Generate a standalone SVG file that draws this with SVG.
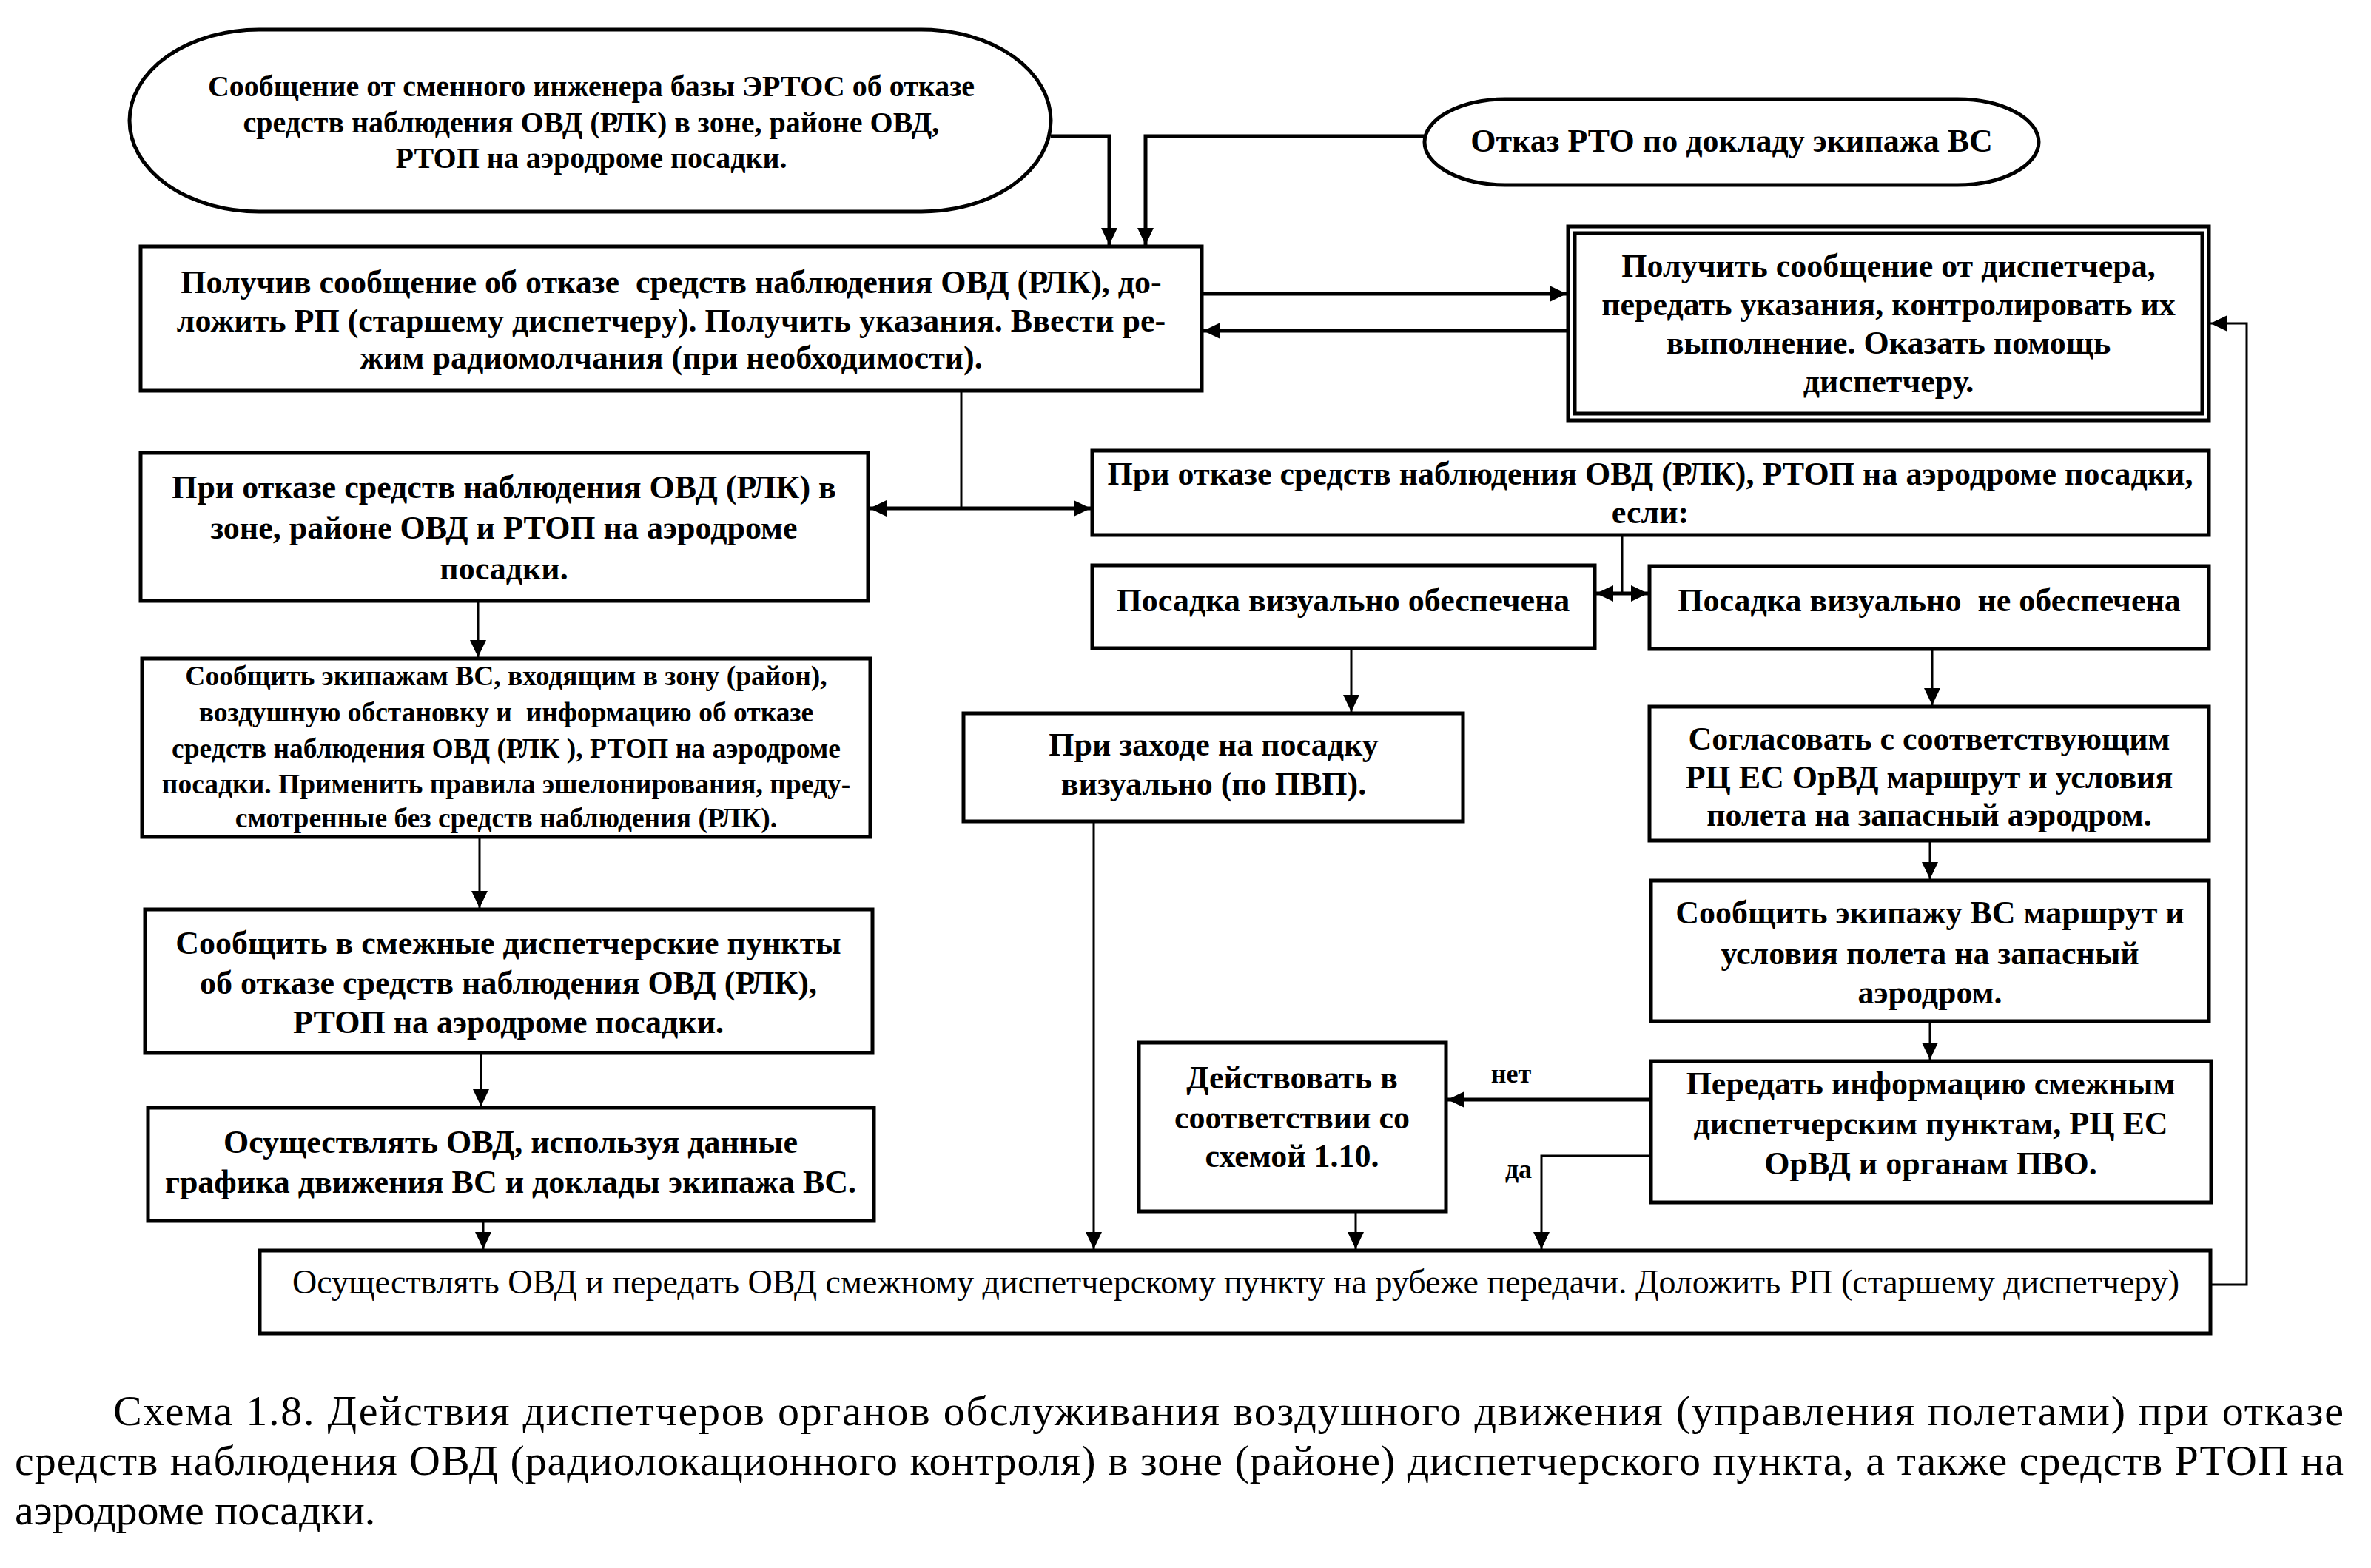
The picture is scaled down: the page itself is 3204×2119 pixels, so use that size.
<svg xmlns="http://www.w3.org/2000/svg" width="3204" height="2119" viewBox="0 0 3204 2119">
<defs>
<style>
.box{fill:#fff;stroke:#000;stroke-width:5}
.t{font-family:"Liberation Serif","Times New Roman",serif;font-size:44px;font-weight:bold;fill:#000;text-anchor:middle}
.s{font-size:40px}
.xs{font-size:37.5px}
.lbl{font-family:"Liberation Serif","Times New Roman",serif;font-size:36px;font-weight:bold;fill:#000;text-anchor:middle}
.cap{font-family:"Liberation Serif","Times New Roman",serif;font-size:58px;fill:#000}
.thin{fill:none;stroke:#000;stroke-width:3}
.thick{fill:none;stroke:#000;stroke-width:5}
.arr{marker-end:url(#ah)}
.both{marker-start:url(#ah);marker-end:url(#ah)}
</style>
<marker id="ah" markerUnits="userSpaceOnUse" markerWidth="24" markerHeight="24" refX="23" refY="12" orient="auto-start-reverse">
<path d="M0,1 L23,12 L0,23 z" fill="#000"/>
</marker>
</defs>
<rect width="3204" height="2119" fill="#fff"/>

<g id="connectors">
<path class="thick arr" d="M1420,184 H1499 V331"/>
<path class="thick arr" d="M1925,184 H1548 V331"/>
<path class="thick arr" d="M1626,397 H2117"/>
<path class="thick arr" d="M2117,447 H1626"/>
<path class="thin" d="M1299,530 V687"/>
<path class="thick both" d="M1175,687 H1474"/>
<path class="thin arr" d="M646,814 V888"/>
<path class="thin" d="M2192,725 V802"/>
<path class="thick both" d="M2157,802 H2227"/>
<path class="thin arr" d="M1826,878 V962"/>
<path class="thin arr" d="M2611,879 V953"/>
<path class="thin arr" d="M2608,1138 V1188"/>
<path class="thin arr" d="M2608,1382 V1432"/>
<path class="thick arr" d="M2229,1486 H1956"/>
<path class="thin arr" d="M2229,1562 H2083 V1688"/>
<path class="thin arr" d="M1832,1639 V1688"/>
<path class="thin arr" d="M1478,1112 V1688"/>
<path class="thin arr" d="M648,1133 V1227"/>
<path class="thin arr" d="M650,1425 V1495"/>
<path class="thin arr" d="M653,1652 V1688"/>
<path class="thin arr" d="M2989,1736 H3036 V437 H2987"/>
<text class="lbl" x="2042" y="1463">нет</text>
<text class="lbl" x="2052" y="1592">да</text>
</g>

<g id="n1">
<rect class="box" x="175" y="40" width="1245" height="246" rx="175" ry="123"/>
<text class="t s"><tspan x="799" y="130">Сообщение от сменного инженера базы ЭРТОС об отказе</tspan><tspan x="799" y="179">средств наблюдения ОВД (РЛК) в зоне, районе ОВД,</tspan><tspan x="799" y="227">РТОП на аэродроме посадки.</tspan></text>
</g>

<g id="n2">
<rect class="box" x="1925" y="134" width="830" height="116" rx="110" ry="58"/>
<text class="t" x="2340" y="205">Отказ РТО по докладу экипажа ВС</text>
</g>

<g id="n3">
<rect class="box" x="190" y="333" width="1434" height="195"/>
<text class="t" xml:space="preserve"><tspan x="907" y="396">Получив сообщение об отказе  средств наблюдения ОВД (РЛК), до-</tspan><tspan x="907" y="448">ложить РП (старшему диспетчеру). Получить указания. Ввести ре-</tspan><tspan x="907" y="498">жим радиомолчания (при необходимости).</tspan></text>
</g>

<g id="n4">
<rect class="box" x="2119" y="306" width="866" height="262"/>
<rect class="box" x="2128" y="315" width="848" height="244"/>
<text class="t"><tspan x="2552" y="374">Получить сообщение от диспетчера,</tspan><tspan x="2552" y="426">передать указания, контролировать их</tspan><tspan x="2552" y="478">выполнение. Оказать помощь</tspan><tspan x="2552" y="530">диспетчеру.</tspan></text>
</g>

<g id="n5">
<rect class="box" x="190" y="612" width="983" height="200"/>
<text class="t"><tspan x="681" y="673">При отказе средств наблюдения ОВД (РЛК) в</tspan><tspan x="681" y="728">зоне, районе ОВД и РТОП на аэродроме</tspan><tspan x="681" y="783">посадки.</tspan></text>
</g>

<g id="n6">
<rect class="box" x="1476" y="609" width="1509" height="114"/>
<text class="t"><tspan x="2230" y="655">При отказе средств наблюдения ОВД (РЛК), РТОП на аэродроме посадки,</tspan><tspan x="2230" y="707">если:</tspan></text>
</g>

<g id="n7">
<rect class="box" x="1476" y="764" width="679" height="112"/>
<text class="t" x="1815" y="826">Посадка визуально обеспечена</text>
</g>

<g id="n8">
<rect class="box" x="2229" y="765" width="756" height="112"/>
<text class="t" x="2607" y="826" xml:space="preserve">Посадка визуально  не обеспечена</text>
</g>

<g id="n9">
<rect class="box" x="1302" y="964" width="675" height="146"/>
<text class="t"><tspan x="1640" y="1021">При заходе на посадку</tspan><tspan x="1640" y="1074">визуально (по ПВП).</tspan></text>
</g>

<g id="n10">
<rect class="box" x="2229" y="955" width="756" height="181"/>
<text class="t"><tspan x="2607" y="1013">Согласовать с соответствующим</tspan><tspan x="2607" y="1065">РЦ ЕС ОрВД маршрут и условия</tspan><tspan x="2607" y="1116">полета на запасный аэродром.</tspan></text>
</g>

<g id="n11">
<rect class="box" x="2231" y="1190" width="754" height="190"/>
<text class="t"><tspan x="2608" y="1248">Сообщить экипажу ВС маршрут и</tspan><tspan x="2608" y="1303">условия полета на запасный</tspan><tspan x="2608" y="1356">аэродром.</tspan></text>
</g>

<g id="n12">
<rect class="box" x="2231" y="1434" width="757" height="191"/>
<text class="t"><tspan x="2609" y="1479">Передать информацию смежным</tspan><tspan x="2609" y="1533">диспетчерским пунктам, РЦ ЕС</tspan><tspan x="2609" y="1587">ОрВД и органам ПВО.</tspan></text>
</g>

<g id="n13">
<rect class="box" x="1539" y="1409" width="415" height="228"/>
<text class="t"><tspan x="1746" y="1471">Действовать в</tspan><tspan x="1746" y="1525">соответствии со</tspan><tspan x="1746" y="1577">схемой 1.10.</tspan></text>
</g>

<g id="n14">
<rect class="box" x="192" y="890" width="984" height="241"/>
<text class="t xs" xml:space="preserve"><tspan x="684" y="926">Сообщить экипажам ВС, входящим в зону (район),</tspan><tspan x="684" y="975">воздушную обстановку и  информацию об отказе</tspan><tspan x="684" y="1024">средств наблюдения ОВД (РЛК ), РТОП на аэродроме</tspan><tspan x="684" y="1072">посадки. Применить правила эшелонирования, преду-</tspan><tspan x="684" y="1118">смотренные без средств наблюдения (РЛК).</tspan></text>
</g>

<g id="n15">
<rect class="box" x="196" y="1229" width="983" height="194"/>
<text class="t"><tspan x="687" y="1289">Сообщить в смежные диспетчерские пункты</tspan><tspan x="687" y="1343">об отказе средств наблюдения ОВД (РЛК),</tspan><tspan x="687" y="1396">РТОП на аэродроме посадки.</tspan></text>
</g>

<g id="n16">
<rect class="box" x="200" y="1497" width="981" height="153"/>
<text class="t"><tspan x="690" y="1558">Осуществлять ОВД, используя данные</tspan><tspan x="690" y="1612">графика движения ВС и доклады экипажа ВС.</tspan></text>
</g>

<g id="n17">
<rect class="box" x="351" y="1690" width="2636" height="112"/>
<text class="t" x="1670" y="1748" style="font-weight:normal;font-size:46px">Осуществлять ОВД и передать ОВД смежному диспетчерскому пункту на рубеже передачи. Доложить РП (старшему диспетчеру)</text>
</g>

<g id="caption">
<text class="cap" x="153" y="1926" textLength="3014" lengthAdjust="spacing">Схема 1.8. Действия диспетчеров органов обслуживания воздушного движения (управления полетами) при отказе</text>
<text class="cap" x="20" y="1993" textLength="3147" lengthAdjust="spacing">средств наблюдения ОВД (радиолокационного контроля) в зоне (районе) диспетчерского пункта, а также средств РТОП на</text>
<text class="cap" x="20" y="2060">аэродроме посадки.</text>
</g>
</svg>
